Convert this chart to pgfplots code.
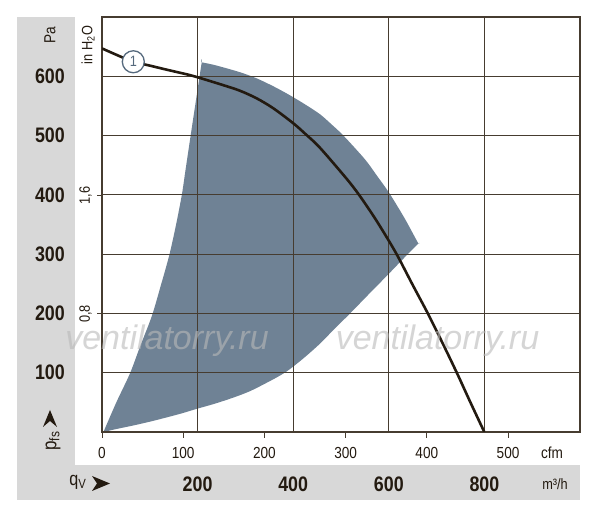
\documentclass[border=0pt]{standalone}
\usepackage{fontspec}
\setmainfont{Liberation Sans}
\newfontfamily\cond[FakeStretch=0.85]{Liberation Sans}
\usepackage{pgfplots}
\pgfplotsset{compat=1.18}
\definecolor{band}{RGB}{216,216,216}
\definecolor{area}{RGB}{111,130,149}
\definecolor{ink}{RGB}{35,26,16}
\definecolor{gridc}{RGB}{70,60,48}
\definecolor{markc}{RGB}{85,105,125}
\definecolor{wm}{RGB}{185,185,185}

\pgfplotsset{
  frame/.style={at={(102pt,89pt)}, anchor=south west, scale only axis,
    width=478pt, height=415pt},
}

\begin{document}
\begin{tikzpicture}[x=1pt,y=1pt]
\fill[white] (0,0) rectangle (600,521);
\fill[band] (17,21) rectangle (75,504);
\fill[band] (17,21) rectangle (580,56);

% main axis: m3/h against Pa
\begin{axis}[frame,
  xmin=0, xmax=1000, ymin=0, ymax=700,
  xtick={200,400,600,800}, ytick={100,200,300,400,500,600},
  xticklabels={200,400,600,800}, yticklabels={100,200,300,400,500,600},
  major tick length=0pt,
  grid=major, grid style={gridc, line width=0.9pt},
  axis line style={gridc, line width=1.1pt},
  axis on top,
  xticklabel style={font=\cond\bfseries\fontsize{21}{21}\selectfont, text=ink,
    anchor=center, yshift=-52pt, inner sep=0pt},
  yticklabel style={font=\cond\bfseries\fontsize{21}{21}\selectfont, text=ink,
    anchor=east, xshift=-37pt, inner sep=0pt},
]
% operating range (corner points doubled to keep them sharp)
\addplot[fill=area, draw=none, smooth] coordinates {
  (3,0) (3,0) (30,50) (58.6,99) (80,145) (104,195) (123,247) (141,299) (155,350)
  (167,400) (174,438) (181,476) (191.6,533) (208.6,623.5) (208.6,623.5)
  (230,620) (253.8,615) (290,606.5) (323.6,596.5) (360,582.5) (393,568)
  (425,552.5) (456,536) (480,519) (505,500) (550,460) (575,432.5) (601,403)
  (632,362) (647,340) (661.7,318) (661.7,318)
  (630,292) (599,266) (560,234) (519,200) (484,172) (456,149) (424,126)
  (393,106) (372,95) (344.5,83) (310,69) (274.7,58) (235,47.5) (198,39)
  (165,31) (130,23.5) (100,17.4) (65.5,11) (30,5) (3,0) (3,0)
} --cycle;
\end{axis}

% curve 1
\begin{axis}[frame, hide axis, xmin=0, xmax=1000, ymin=0, ymax=700]
\addplot[ink, line width=2.6pt, smooth] coordinates {
  (0,647) (31.4,635.8) (65.5,624.5) (100,618) (133.9,611.4) (184,602)
  (201.5,598) (253.8,585) (288.7,575.6) (323.6,562.8) (358.4,546)
  (400.2,520.7) (424.7,503.3) (456.1,479.3) (511.9,427) (538.3,399.4)
  (571.1,360.4) (601,321.3) (619.9,294.7) (650.6,247.1) (682.6,198.5)
  (713.4,148.4) (743.3,98.2) (769.9,51.4) (799.8,0)
};
\node[circle, draw=markc, fill=white, line width=1.3pt, minimum size=22pt,
  inner sep=0pt, text=markc, font=\cond\fontsize{15}{15}\selectfont]
  at (axis cs:65.5,624.5) {1};
\end{axis}

% cfm scale
\begin{axis}[frame, xmin=0, xmax=588.6, ymin=0, ymax=1,
  hide y axis, axis x line*=bottom, x axis line style={draw=none},
  xtick={0,100,200,300,400,500}, xticklabels={0,100,200,300,400,500},
  tick align=outside, major tick length=6pt,
  xtick style={gridc, line width=1pt},
  xticklabel style={font=\cond\fontsize{16}{16}\selectfont, text=ink,
    anchor=center, yshift=-15pt, inner sep=0pt},
]
\end{axis}

% in H2O scale
\begin{axis}[frame, xmin=0, xmax=1, ymin=0, ymax=2.81026,
  hide x axis, axis y line*=left, y axis line style={draw=none},
  ytick={0.8,1.6}, yticklabels={{0,8},{1,6}},
  tick align=outside, major tick length=4.5pt,
  ytick style={gridc, line width=0.9pt},
  yticklabel style={xshift=-12pt, rotate=90, anchor=center, inner sep=0pt,
    font=\cond\fontsize{15}{15}\selectfont, text=ink},
]
\end{axis}

\node[rotate=90, text=ink, font=\cond\fontsize{16}{16}\selectfont] at (50,486) {Pa};
\node[rotate=90, text=ink, font=\cond\fontsize{15}{15}\selectfont] at (88,476) {in H\textsubscript{2}O};
\node[text=ink, font=\cond\fontsize{16}{16}\selectfont] at (552,68) {cfm};
\node[text=ink, font=\cond\fontsize{15}{15}\selectfont] at (555,37) {m³/h};
\node[anchor=east, text=ink, font=\cond\fontsize{19}{19}\selectfont] at (90,39) {q\textsubscript{V}};
\node[rotate=90, text=ink, font=\cond\fontsize{20}{20}\selectfont] at (53,80) {p\textsubscript{fs}};
\fill[ink] (50,111) -- (57,94) -- (50,100) -- (43,94) -- cycle;
\fill[ink] (110,37.5) -- (92,45) -- (97,37.5) -- (92,30) -- cycle;

\node[anchor=base, text=wm, text opacity=0.6, font=\itshape\fontsize{34}{34}\selectfont] at (167,171) {ventilatorry.ru};
\node[anchor=base, text=wm, text opacity=0.6, font=\itshape\fontsize{34}{34}\selectfont] at (437.5,171) {ventilatorry.ru};
\end{tikzpicture}
\end{document}
